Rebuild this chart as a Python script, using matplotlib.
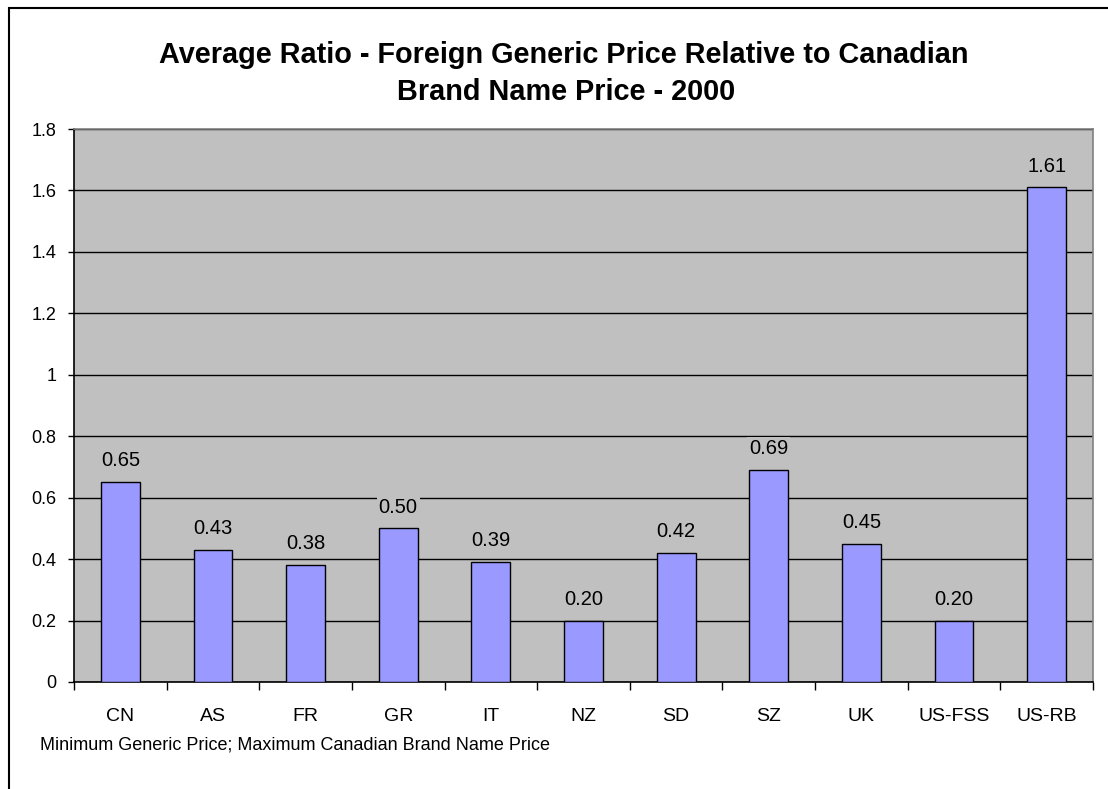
import matplotlib.pyplot as plt
from matplotlib.patches import Rectangle

plt.rcParams["font.family"] = ["Liberation Sans", "DejaVu Sans"]

countries = ["CN", "AS", "FR", "GR", "IT", "NZ", "SD", "SZ", "UK", "US-FSS", "US-RB"]
ratios = [0.65, 0.43, 0.38, 0.50, 0.39, 0.20, 0.42, 0.69, 0.45, 0.20, 1.61]
yticks = [0, 0.2, 0.4, 0.6, 0.8, 1, 1.2, 1.4, 1.6, 1.8]
ytick_labels = ["0", "0.2", "0.4", "0.6", "0.8", "1", "1.2", "1.4", "1.6", "1.8"]

W, H = 1108, 789
fig = plt.figure(figsize=(W / 100, H / 100), dpi=100)

# outer chart border (runs past the right/bottom edge in the original)
fig.patches.append(Rectangle((8.5 / W, -0.05), 1.2, 1 - 7.5 / H + 0.05,
                             transform=fig.transFigure, fill=False,
                             edgecolor="black", linewidth=1.5))

left, right, top, bottom = 74, 1093, 129, 682
ax = fig.add_axes([left / W, 1 - bottom / H, (right - left) / W, (bottom - top) / H])
ax.set_facecolor("#C0C0C0")

x = list(range(len(countries)))
ax.bar(x, ratios, width=0.42, color="#9999FF", edgecolor="black", linewidth=1.0, zorder=3)

for xi, v in zip(x, ratios):
    ax.annotate(f"{v:.2f}", (xi, v), xytext=(0, 8.5), textcoords="offset points",
                ha="center", va="bottom", fontsize=14.5, zorder=4,
                bbox=dict(facecolor="#C0C0C0", edgecolor="none", pad=1.5))

ax.set_xlim(-0.5, len(countries) - 0.5)
ax.set_ylim(0, 1.8)
ax.set_yticks(yticks)
ax.set_yticklabels(ytick_labels, fontsize=13)
ax.yaxis.grid(True, color="black", linewidth=1.0, zorder=1)
ax.set_axisbelow(True)

# category labels centred, ticks at category boundaries
ax.set_xticks(x)
ax.set_xticklabels(countries, fontsize=14)
ax.tick_params(axis="x", length=0, pad=19)
ax.set_xticks([i - 0.5 for i in range(len(countries) + 1)], minor=True)
ax.tick_params(axis="x", which="minor", length=6, width=1.0, direction="out")
ax.tick_params(axis="y", length=4.5, width=1.0, direction="out", pad=8)

for s in ["left", "bottom"]:
    ax.spines[s].set_color("black")
    ax.spines[s].set_linewidth(1.2)
for s in ["top", "right"]:
    ax.spines[s].set_color("#808080")
    ax.spines[s].set_linewidth(1.2)

fig.text(564 / W, 1 - 55 / H, "Average Ratio - Foreign Generic Price Relative to Canadian",
         ha="center", va="center", fontsize=20.8, fontweight="bold")
fig.text(566 / W, 1 - 92 / H, "Brand Name Price - 2000",
         ha="center", va="center", fontsize=20.8, fontweight="bold")
fig.text(40 / W, 1 - 745 / H, "Minimum Generic Price; Maximum Canadian Brand Name Price",
         ha="left", va="center", fontsize=13)

fig.savefig("out.png", dpi=100)
